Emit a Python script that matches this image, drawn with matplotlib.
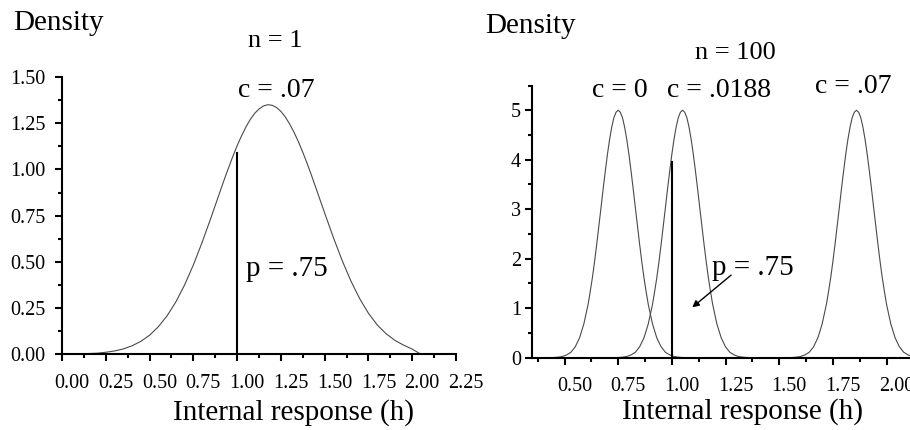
import matplotlib
matplotlib.use("Agg")
import matplotlib.pyplot as plt
import matplotlib.transforms as mtransforms
from matplotlib.ticker import MultipleLocator

plt.rcParams['font.family'] = ['Liberation Serif', 'DejaVu Serif']

# n = 1 panel: density curve
x_n1 = [0.00, 0.05, 0.10, 0.15, 0.20, 0.25, 0.30, 0.35, 0.40, 0.45,
        0.50, 0.55, 0.60, 0.65, 0.70, 0.75, 0.80, 0.85, 0.875, 0.90,
        0.925, 0.95, 0.975, 1.00, 1.025, 1.05, 1.075, 1.10, 1.125, 1.15,
        1.175, 1.20, 1.225, 1.25, 1.275, 1.30, 1.325, 1.35, 1.375, 1.40,
        1.425, 1.45, 1.475, 1.50, 1.55, 1.60, 1.65, 1.70, 1.75, 1.80,
        1.85, 1.90, 1.95, 2.00, 2.05]
y_n1 = [0.000, 0.001, 0.002, 0.004, 0.006, 0.011, 0.018, 0.029, 0.046, 0.070,
        0.103, 0.149, 0.208, 0.283, 0.375, 0.483, 0.605, 0.737, 0.805, 0.873,
        0.941, 1.006, 1.069, 1.128, 1.181, 1.229, 1.270, 1.303, 1.327, 1.343,
        1.350, 1.347, 1.335, 1.314, 1.284, 1.246, 1.201, 1.150, 1.093, 1.032,
        0.967, 0.900, 0.832, 0.764, 0.631, 0.507, 0.396, 0.301, 0.222, 0.159,
        0.112, 0.076, 0.050, 0.028, 0.000]
crit_n1 = 1.00
crit_n1_top = 1.09

# n = 100 panel: three curves with the same height profile
x_c0 = [0.45, 0.47, 0.49, 0.51, 0.53, 0.55, 0.57, 0.59, 0.61, 0.62, 0.63,
        0.64, 0.65, 0.66, 0.67, 0.68, 0.69, 0.70, 0.71, 0.72, 0.73, 0.74,
        0.75, 0.76, 0.77, 0.78, 0.79, 0.80, 0.81, 0.82, 0.83, 0.84, 0.85,
        0.86, 0.87, 0.88, 0.89, 0.91, 0.93, 0.95, 0.97, 0.99, 1.01, 1.03,
        1.05]
x_c0188 = [0.75, 0.77, 0.79, 0.81, 0.83, 0.85, 0.87, 0.89, 0.91, 0.92, 0.93,
           0.94, 0.95, 0.96, 0.97, 0.98, 0.99, 1.00, 1.01, 1.02, 1.03, 1.04,
           1.05, 1.06, 1.07, 1.08, 1.09, 1.10, 1.11, 1.12, 1.13, 1.14, 1.15,
           1.16, 1.17, 1.18, 1.19, 1.21, 1.23, 1.25, 1.27, 1.29, 1.31, 1.33,
           1.35]
x_c07 = [1.56, 1.58, 1.60, 1.62, 1.64, 1.66, 1.68, 1.70, 1.72, 1.73, 1.74,
         1.75, 1.76, 1.77, 1.78, 1.79, 1.80, 1.81, 1.82, 1.83, 1.84, 1.85,
         1.86, 1.87, 1.88, 1.89, 1.90, 1.91, 1.92, 1.93, 1.94, 1.95, 1.96,
         1.97, 1.98, 1.99, 2.00, 2.02, 2.04, 2.06, 2.08, 2.10, 2.12, 2.14,
         2.16]
y_n100 = [0.004, 0.011, 0.025, 0.056, 0.11, 0.22, 0.40, 0.68, 1.08, 1.34, 1.62,
          1.94, 2.29, 2.66, 3.03, 3.41, 3.77, 4.11, 4.41, 4.66, 4.85, 4.96,
          5.00, 4.96, 4.85, 4.66, 4.41, 4.11, 3.77, 3.41, 3.03, 2.66, 2.29,
          1.94, 1.62, 1.34, 1.08, 0.68, 0.40, 0.22, 0.11, 0.056, 0.025, 0.011,
          0.004]
crit_n100 = 1.00
crit_n100_top = 3.96

W, H = 910, 430
fig = plt.figure(figsize=(W / 100, H / 100), dpi=100)


def px(x, y):
    return x / W, 1 - y / H


def style_axes(ax, ypad):
    for s in ['top', 'right']:
        ax.spines[s].set_visible(False)
    for s in ['left', 'bottom']:
        ax.spines[s].set_linewidth(1.5)
    ax.tick_params(which='major', direction='out', length=5, width=1.5, labelsize=14.5)
    ax.tick_params(which='minor', direction='out', length=3, width=1.5)
    ax.tick_params(axis='x', pad=9)
    ax.tick_params(axis='y', pad=ypad)
    # the original's x labels sit a bit right of their ticks
    shift = mtransforms.ScaledTranslation(10 / 100, 0, fig.dpi_scale_trans)
    for lab in ax.get_xticklabels():
        lab.set_transform(lab.get_transform() + shift)


curve_kw = dict(color='#4a4a4a', lw=0.8)

# ---- left panel
ax1 = fig.add_axes([62 / W, (H - 354.3) / H, (456 - 62) / W, (354.3 - 77) / H])
ax1.plot(x_n1, y_n1, **curve_kw)
ax1.plot([crit_n1, crit_n1], [0, crit_n1_top], color='black', lw=1.5)
ax1.set_xlim(0, 2.25)
ax1.set_ylim(0, 1.5)
ax1.set_xticks([0, 0.25, 0.5, 0.75, 1.0, 1.25, 1.5, 1.75, 2.0, 2.25])
ax1.set_xticklabels(['0.00', '0.25', '0.50', '0.75', '1.00', '1.25', '1.50', '1.75', '2.00', '2.25'])
ax1.set_yticks([0, 0.25, 0.5, 0.75, 1.0, 1.25, 1.5])
ax1.set_yticklabels(['0.00', '0.25', '0.50', '0.75', '1.00', '1.25', '1.50'])
ax1.xaxis.set_minor_locator(MultipleLocator(0.125))
ax1.yaxis.set_minor_locator(MultipleLocator(0.125))
style_axes(ax1, 7)
ax1.text(1.224, 1.39, 'c = .07', ha='center', va='baseline', fontsize=20)
ax1.text(1.053, 0.425, 'p = .75', ha='left', va='baseline', fontsize=21)

# ---- right panel
ax2 = fig.add_axes([532.3 / W, (H - 357.7) / H, 380 / W, (357.7 - 85.5) / H])
for xs in [x_c0, x_c0188, x_c07]:
    ax2.plot(xs, y_n100, **curve_kw)
ax2.plot([crit_n100, crit_n100], [0, crit_n100_top], color='black', lw=1.5)
ax2.set_xlim(0.35, 2.12)
ax2.set_ylim(0, 5.5)
ax2.set_xticks([0.5, 0.75, 1.0, 1.25, 1.5, 1.75, 2.0])
ax2.set_xticklabels(['0.50', '0.75', '1.00', '1.25', '1.50', '1.75', '2.00'])
ax2.set_yticks([0, 1, 2, 3, 4, 5])
ax2.xaxis.set_minor_locator(MultipleLocator(0.125))
ax2.yaxis.set_minor_locator(MultipleLocator(0.5))
style_axes(ax2, 3)
ax2.text(0.758, 5.27, 'c = 0', ha='center', va='baseline', fontsize=20)
ax2.text(1.22, 5.27, 'c = .0188', ha='center', va='baseline', fontsize=20)
ax2.text(1.847, 5.34, 'c = .07', ha='center', va='baseline', fontsize=20)
ax2.text(1.186, 1.67, 'p = .75', ha='left', va='baseline', fontsize=21)
ax2.annotate('', xy=(1.085, 0.98), xytext=(1.286, 1.705),
             arrowprops=dict(arrowstyle='-|>', color='black', lw=1, mutation_scale=10))

# ---- figure texts
fig.text(*px(13, 29.5), 'Density', ha='left', va='baseline', fontsize=21)
fig.text(*px(275.5, 46.7), 'n = 1', ha='center', va='baseline', fontsize=19)
fig.text(*px(293.5, 420), 'Internal response (h)', ha='center', va='baseline', fontsize=21)
fig.text(*px(485, 33), 'Density', ha='left', va='baseline', fontsize=21)
fig.text(*px(735, 59.3), 'n = 100', ha='center', va='baseline', fontsize=19)
fig.text(*px(742.5, 419), 'Internal response (h)', ha='center', va='baseline', fontsize=21)

fig.savefig('out.png', dpi=100)
